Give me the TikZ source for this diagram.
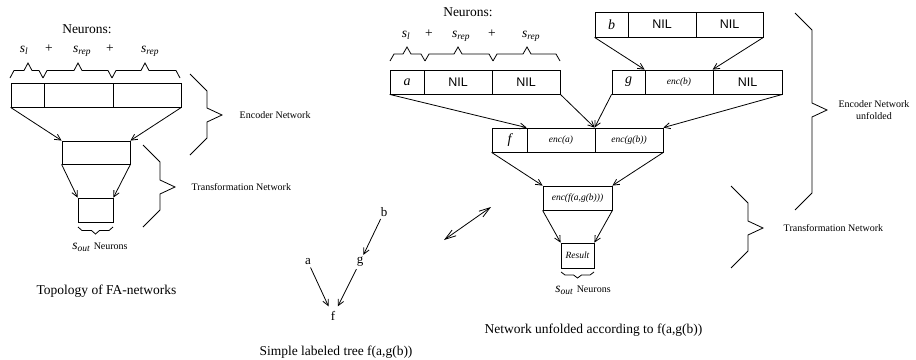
\documentclass[tikz,border=0pt]{standalone}
\usepackage{fontspec}
\setmainfont{Liberation Serif}
\setsansfont{Liberation Sans}
\usepackage{tikz}
\usetikzlibrary{arrows.meta}

% s with a subscript, set in italic text
\newcommand{\nsub}[2]{\textit{#1}\textsubscript{\textit{#2}}}
% angular brace lying down: left x, tip x, right x, y of the ends, height (negative: tip down)
\newcommand{\hbrace}[5]{\draw (#1,#4) -- ({#1+4},{#4-(#5)/2}) -- ({#2-4},{#4-(#5)/2}) -- (#2,{#4-(#5)})
    -- ({#2+4},{#4-(#5)/2}) -- ({#3-4},{#4-(#5)/2}) -- (#3,#4);}
% angular brace standing up: x of the ends, top y, bottom y, y of the tip
\newcommand{\vbrace}[4]{\draw (#1,#2) -- ({#1+17},{#2+17}) -- ({#1+17},{#4-7}) -- ({#1+32},#4)
    -- ({#1+17},{#4+7}) -- ({#1+17},{#3-17}) -- (#1,#3);}

\begin{document}
\begin{tikzpicture}[x = 1pt, y = -1pt, line width = 0.8pt,
                    >={Straight Barb[length=6pt, width=6pt]},
                    cell/.style = {draw, minimum height = 24pt, inner sep = 0pt},
                    bigtxt/.style = {font = \fontsize{13.5}{15}\selectfont},
                    smalltxt/.style = {font = \fontsize{10}{12}\selectfont, align = center},
                    nil/.style = {font = \sffamily\fontsize{12.5}{14}\selectfont},
                    letter/.style = {font = \itshape\fontsize{14}{15}\selectfont},
                    enc/.style = {font = \itshape\fontsize{9.5}{11}\selectfont},
                    leaf/.style = {font = \fontsize{13}{15}\selectfont, inner sep = 2pt}]
  \useasboundingbox (0, 0) rectangle (916, 359);

  % topology of FA-networks
  \node [bigtxt] (neurL) at (87, 29){Neurons:};
  \node [bigtxt, anchor = base] (sL1) at (24, 52){\nsub{s}{l}};
  \node [bigtxt, anchor = base] (pL1) at (49, 52){+};
  \node [bigtxt, anchor = base] (sL2) at (82, 52){\nsub{s}{rep}};
  \node [bigtxt, anchor = base] (pL2) at (110, 52){+};
  \node [bigtxt, anchor = base] (sL3) at (150, 52){\nsub{s}{rep}};
  \hbrace{10}{28}{43}{78}{15}
  \hbrace{43}{78}{112}{78}{15}
  \hbrace{112}{145}{180}{78}{15}
  \node [cell, minimum width = 33pt] (l1) at (27.5, 95){};
  \node [cell, minimum width = 69pt] (l2) at (78.5, 95){};
  \node [cell, minimum width = 68pt] (l3) at (147, 95){};
  \node [cell, minimum width = 68pt, minimum height = 23pt] (lt) at (96, 152.5){};
  \node [cell, minimum width = 35pt] (lo) at (95.5, 210){};
  \draw [->] (l1.south west) -- (lt.north west);
  \draw [->] (l3.south east) -- (lt.north east);
  \draw [->] (lt.south west) -- (lo.north west);
  \draw [->] (lt.south east) -- (lo.north east);
  \hbrace{78}{95.5}{113}{227}{-7}
  \node [bigtxt, anchor = base] (outL) at (100, 249){\nsub{s}{out} {\fontsize{10}{12}\selectfont Neurons}};
  \vbrace{190}{74}{155}{115}
  \node [smalltxt, anchor = west] (encL) at (236, 115){Encoder Network};
  \vbrace{143}{145}{227}{187}
  \node [smalltxt, anchor = west] (trL) at (188, 187){Transformation Network};
  \node [bigtxt] (topo) at (106.5, 291){Topology of FA-networks};

  % simple labeled tree
  \node [leaf] (tb) at (384, 212){b};
  \node [leaf] (tg) at (360, 262){g};
  \node [leaf] (ta) at (308, 262){a};
  \node [leaf] (tf) at (333, 316){f};
  \draw [->] (tb) -- (tg);
  \draw [->, shorten > = 3pt] (ta) -- (tf);
  \draw [->, shorten > = 3pt] (tg) -- (tf);
  \node [bigtxt] (tree) at (336, 352){Simple labeled tree f(a,g(b))};

  \coordinate (dl) at (444, 240);
  \coordinate (dr) at (491, 207);
  \draw [{Straight Barb[length=11pt, width=7pt]}-{Straight Barb[length=11pt, width=7pt]}] (dl) -- (dr);

  % network unfolded
  \node [bigtxt] (neurR) at (468, 12){Neurons:};
  \node [bigtxt, anchor = base] (sR1) at (406, 37){\nsub{s}{l}};
  \node [bigtxt, anchor = base] (pR1) at (429, 37){+};
  \node [bigtxt, anchor = base] (sR2) at (461, 37){\nsub{s}{rep}};
  \node [bigtxt, anchor = base] (pR2) at (492, 37){+};
  \node [bigtxt, anchor = base] (sR3) at (531, 37){\nsub{s}{rep}};
  \hbrace{390}{407}{425}{61}{14}
  \hbrace{425}{458}{493}{61}{14}
  \hbrace{493}{527}{560}{61}{14}

  \node [cell, minimum width = 34pt, letter] (a1) at (407, 82){a};
  \node [cell, minimum width = 68pt, nil] (a2) at (458, 82){NIL};
  \node [cell, minimum width = 68pt, nil] (a3) at (526, 82){NIL};

  \node [cell, minimum width = 33pt, minimum height = 25pt, letter] (b1) at (611.5, 24.5){b};
  \node [cell, minimum width = 68pt, minimum height = 25pt, nil] (b2) at (662, 24.5){NIL};
  \node [cell, minimum width = 67pt, minimum height = 25pt, nil] (b3) at (729.5, 24.5){NIL};

  \node [cell, minimum width = 33pt, letter] (g1) at (628.5, 82){g};
  \node [cell, minimum width = 68pt, enc] (g2) at (679, 82){enc(b)};
  \node [cell, minimum width = 69pt, nil] (g3) at (747.5, 82){NIL};

  \node [cell, minimum width = 35pt, letter] (f1) at (509.5, 140){f};
  \node [cell, minimum width = 68pt, enc] (f2) at (561, 140){enc(a)};
  \node [cell, minimum width = 68pt, enc] (f3) at (629, 140){enc(g(b))};

  \node [cell, minimum width = 69pt, enc] (fe) at (577.5, 198){enc(f(a,g(b)))};
  \node [cell, minimum width = 33pt, minimum height = 25pt, enc] (res) at (577.5, 255.5){Result};

  \draw [->] (b1.south west) -- (g2.north west);
  \draw [->] (b3.south east) -- (g3.north west);
  \draw [->] (a1.south west) -- (f2.north west);
  \draw [->] (a3.south east) -- (f3.north west);
  \draw [->] (g1.south west) -- (f3.north west);
  \draw [->] (g3.south east) -- (f3.north east);
  \draw [->] (f1.south west) -- (fe.north west);
  \draw [->] (f3.south east) -- (fe.north east);
  \draw [->] (fe.south west) -- (res.north west);
  \draw [->] (fe.south east) -- (res.north east);

  \hbrace{561}{577.5}{594}{272}{-6}
  \node [bigtxt, anchor = base] (outR) at (583, 292){\nsub{s}{out} {\fontsize{10}{12}\selectfont Neurons}};
  \vbrace{795}{13}{210}{110}
  \node [smalltxt] (encR) at (874, 110){Encoder Network\\unfolded};
  \vbrace{731}{186}{268}{228}
  \node [smalltxt, anchor = west] (trR) at (780, 228){Transformation Network};
  \node [bigtxt] (unf) at (593.5, 330){Network unfolded according to f(a,g(b))};
\end{tikzpicture}
\end{document}
